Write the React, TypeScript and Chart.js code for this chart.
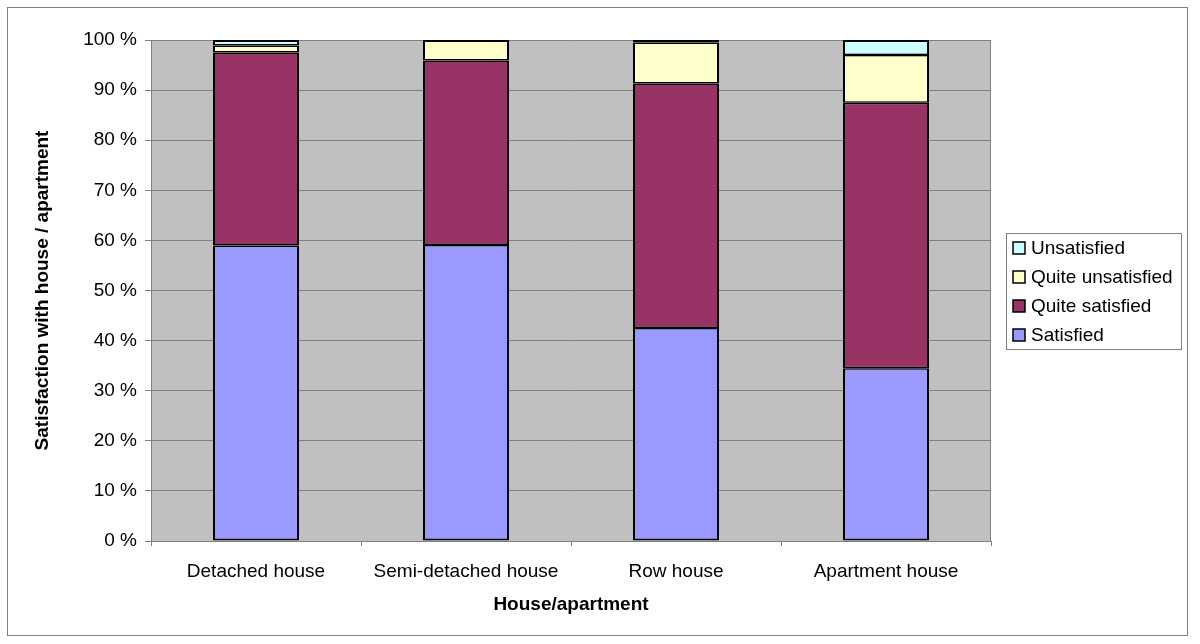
import React, { useEffect, useRef } from "react";
import { Chart, registerables } from "chart.js";

Chart.register(...registerables);

const categories = ["Detached house", "Semi-detached house", "Row house", "Apartment house"];
const satisfied = [59.0, 59.1, 42.5, 34.5];
const quiteSatisfied = [38.5, 36.8, 48.8, 53.0];
const quiteUnsatisfied = [1.4, 4.1, 8.2, 9.5];
const unsatisfied = [1.1, 0, 0.5, 3.0];
const seriesNames = ["Satisfied", "Quite satisfied", "Quite unsatisfied", "Unsatisfied"];
const seriesColors = ["#9999FF", "#993366", "#FFFFCC", "#CCFFFF"];
const yTicks = [0, 10, 20, 30, 40, 50, 60, 70, 80, 90, 100];

const FONT = "'Liberation Sans', Arial, sans-serif";

const framePlugin = {
  id: "frame",
  beforeDraw(chart: any) {
    const { ctx, chartArea } = chart;
    ctx.save();
    ctx.fillStyle = "#FFFFFF";
    ctx.fillRect(0, 0, chart.width, chart.height);
    ctx.strokeStyle = "#808080";
    ctx.lineWidth = 1;
    ctx.strokeRect(7.5, 7.5, 1180, 628);
    ctx.fillStyle = "#C0C0C0";
    ctx.fillRect(chartArea.left, chartArea.top, chartArea.right - chartArea.left, chartArea.bottom - chartArea.top);
    ctx.restore();
  },
  afterDraw(chart: any) {
    const { ctx, chartArea } = chart;
    ctx.save();
    ctx.strokeStyle = "#808080";
    ctx.lineWidth = 1;
    ctx.beginPath();
    ctx.moveTo(chartArea.right - 0.5, chartArea.top);
    ctx.lineTo(chartArea.right - 0.5, chartArea.bottom);
    ctx.stroke();

    // legend
    const lx = 1006, ly = 233, lw = 175, lh = 116;
    ctx.fillStyle = "#FFFFFF";
    ctx.fillRect(lx, ly, lw, lh);
    ctx.strokeStyle = "#808080";
    ctx.strokeRect(lx + 0.5, ly + 0.5, lw, lh);
    const items = chart.data.datasets.map((d: any) => ({ label: d.label, color: d.backgroundColor })).reverse();
    const rowY = [248, 277, 306, 335];
    ctx.font = `19px ${FONT}`;
    ctx.textBaseline = "middle";
    ctx.textAlign = "left";
    items.forEach((it: any, i: number) => {
      const y = rowY[i];
      ctx.fillStyle = it.color;
      ctx.fillRect(1013, y - 6, 12, 12);
      ctx.strokeStyle = "#000000";
      ctx.lineWidth = 1.5;
      ctx.strokeRect(1013, y - 6, 12, 12);
      ctx.fillStyle = "#000000";
      ctx.fillText(it.label, 1031, y + 1);
    });
    ctx.restore();
  },
};

export default function App() {
  const ref = useRef<HTMLCanvasElement>(null);
  useEffect(() => {
    if (!ref.current) return;
    const seriesData = [satisfied, quiteSatisfied, quiteUnsatisfied, unsatisfied];
    const topIndex = categories.map((_, ci) => {
      let top = 0;
      seriesData.forEach((s, si) => {
        if (s[ci] > 0) top = si;
      });
      return top;
    });
    const chart = new Chart(ref.current, {
      type: "bar",
      data: {
        labels: categories,
        datasets: seriesData.map((d, i) => ({
          label: seriesNames[i],
          data: d,
          backgroundColor: seriesColors[i],
          borderColor: "#000000",
          borderWidth: (c: any) => ({
            left: 2,
            right: 2,
            top: c.datasetIndex === topIndex[c.dataIndex] ? 2 : 1.5,
            bottom: c.datasetIndex === 0 ? 2 : 1.5,
          }),
          borderSkipped: false,
          inflateAmount: 0,
          barThickness: 86,
          categoryPercentage: 1,
        })),
      },
      options: {
        responsive: false,
        animation: false,
        layout: { padding: { left: 0, top: 40, right: 209, bottom: 0 } },
        plugins: {
          legend: { display: false },
          tooltip: { enabled: false },
          title: { display: false },
        },
        scales: {
          x: {
            stacked: true,
            offset: true,
            afterFit: (s: any) => {
              s.height = 103;
            },
            grid: {
              offset: true,
              drawOnChartArea: false,
              drawTicks: true,
              tickLength: 5,
              tickColor: "#808080",
            },
            border: { display: true, color: "#808080" },
            ticks: {
              color: "#000000",
              padding: 14,
              font: { family: FONT, size: 19 },
              maxRotation: 0,
            },
            title: {
              display: true,
              text: "House/apartment",
              color: "#000000",
              font: { family: FONT, size: 19, weight: "bold" },
              padding: { top: 0, bottom: 28 },
            },
          },
          y: {
            stacked: true,
            min: 0,
            max: 100,
            afterFit: (s: any) => {
              s.width = 151;
            },
            afterBuildTicks: (s: any) => {
              s.ticks = yTicks.map((v) => ({ value: v }));
            },
            grid: {
              color: "#808080",
              drawTicks: true,
              tickLength: 6,
              tickColor: "#808080",
            },
            border: { display: true, color: "#808080" },
            ticks: {
              color: "#000000",
              padding: 8,
              font: { family: FONT, size: 19 },
              callback: (v: any) => `${v} %`,
            },
            title: {
              display: true,
              text: "Satisfaction with house / apartment",
              color: "#000000",
              font: { family: FONT, size: 19, weight: "bold" },
              padding: { top: 31, bottom: 0 },
            },
          },
        },
      },
      plugins: [framePlugin],
    });
    return () => chart.destroy();
  }, []);
  return (
    <div style={{ position: "absolute", left: 0, top: 0, width: 1200, height: 644 }}>
      <canvas ref={ref} width={1200} height={644} />
    </div>
  );
}
